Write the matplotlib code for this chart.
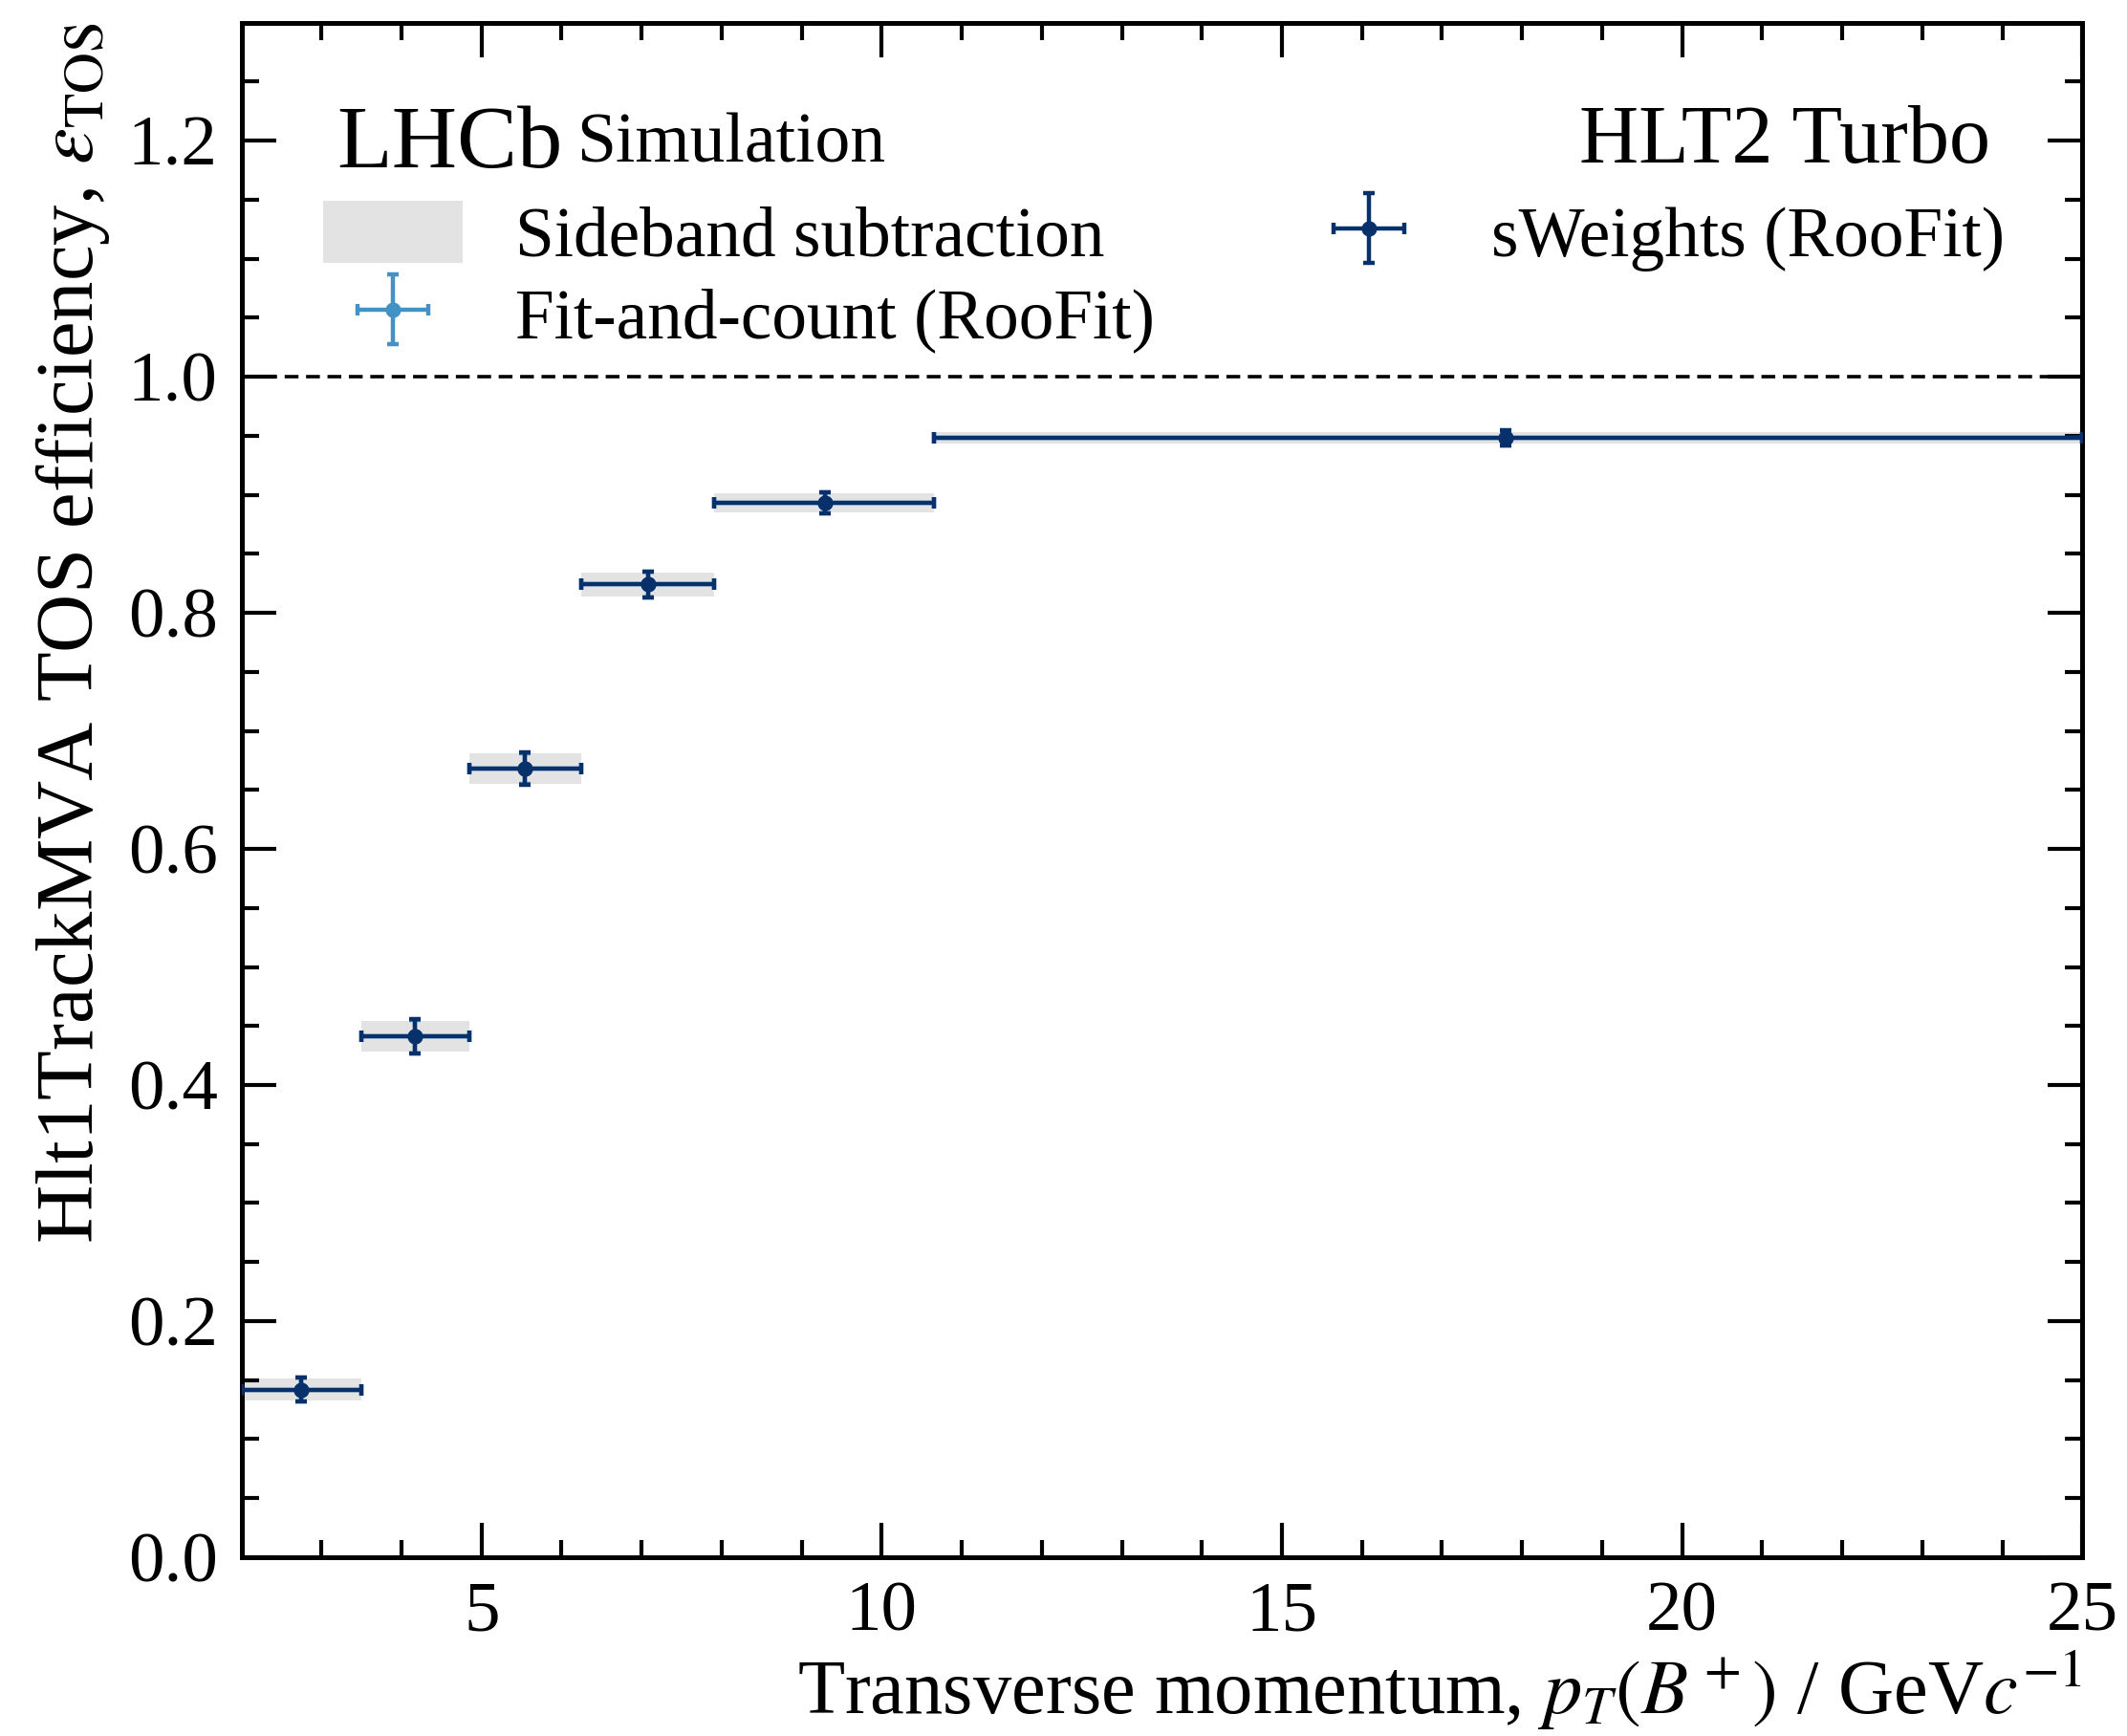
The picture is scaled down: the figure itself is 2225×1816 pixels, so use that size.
import numpy as np
import matplotlib
matplotlib.use("Agg")
import matplotlib.pyplot as plt
from matplotlib.patches import Patch
from matplotlib.lines import Line2D

# ---- data ----
bin_edges = [2.0, 3.5, 4.85, 6.25, 7.9, 10.65, 25.0]
x_centers = [2.75, 4.17, 5.54, 7.08, 9.29, 17.8]
sideband_eff = [0.142, 0.441, 0.668, 0.824, 0.893, 0.948]
sideband_err = [0.009, 0.013, 0.013, 0.010, 0.008, 0.005]
fitcount_eff = [0.142, 0.441, 0.668, 0.824, 0.893, 0.948]
fitcount_err = [0.010, 0.014, 0.013, 0.011, 0.009, 0.006]
sweights_eff = [0.142, 0.441, 0.668, 0.824, 0.893, 0.948]
sweights_err = [0.010, 0.0145, 0.0135, 0.011, 0.009, 0.0065]

plt.rcParams['font.family'] = ['Liberation Serif', 'DejaVu Serif']
plt.rcParams['mathtext.fontset'] = 'stix'

fig = plt.figure(figsize=(11.125, 9.08), dpi=200)
ax = fig.add_axes([0.1135, 0.103, 0.979 - 0.1135, 0.987 - 0.103])

edges = np.array(bin_edges)
xc = np.array(x_centers)
xlo = xc - edges[:-1]
xhi = edges[1:] - xc
widths = np.diff(edges)

navy = '#08306b'
light = '#4292c6'
grey = '#e3e3e3'

sb = np.array(sideband_eff)
sbe = np.array(sideband_err)
ax.bar(edges[:-1], 2 * sbe, bottom=sb - sbe, width=widths, align='edge',
       color=grey, linewidth=0, zorder=1)

h_fc = ax.errorbar(xc, fitcount_eff, xerr=[xlo, xhi], yerr=fitcount_err, fmt='o',
                   color=light, ms=4.8, elinewidth=1.6, capsize=2.3, capthick=1.6, zorder=2)
h_sw = ax.errorbar(xc, sweights_eff, xerr=[xlo, xhi], yerr=sweights_err, fmt='o',
                   color=navy, ms=4.8, elinewidth=1.6, capsize=2.3, capthick=1.6, zorder=3)

ax.axhline(1.0, color='black', ls='--', lw=1.3, dashes=(4, 2.2), zorder=0.5)

ax.set_xlim(2, 25)
ax.set_ylim(0, 1.3)
ax.set_xticks([5, 10, 15, 20, 25])
ax.set_xticks(np.arange(3, 25, 1), minor=True)
ax.set_yticks(np.arange(0, 1.21, 0.2))
ax.set_yticklabels([f"{v:.1f}" for v in np.arange(0, 1.21, 0.2)])
ax.set_yticks(np.arange(0.05, 1.3, 0.05), minor=True)
ax.tick_params(which='both', direction='in', top=True, right=True, width=1.5, labelsize=27)
ax.tick_params(which='major', length=13, pad=9)
ax.tick_params(which='minor', length=6.5)
ax.tick_params(axis='x', which='major', pad=9)
for s in ax.spines.values():
    s.set_linewidth(1.8)

ax.set_xlabel(r"Transverse momentum, $p_T(B^+)$ / GeV$c^{-1}$", fontsize=29,
              loc='right', labelpad=1)
ax.set_ylabel(r"Hlt1TrackMVA TOS efficiency, $\varepsilon_{\rm TOS}$", fontsize=30.5,
              loc='top', labelpad=6)

ax.text(0.052, 0.906, "LHCb", transform=ax.transAxes, fontsize=34, va='baseline', ha='left')
ax.text(0.182, 0.909, "Simulation", transform=ax.transAxes, fontsize=26.5, va='baseline', ha='left')
ax.text(0.950, 0.909, "HLT2 Turbo", transform=ax.transAxes, fontsize=31, va='baseline', ha='right')

h_sb = Patch(facecolor=grey, edgecolor='none')
h_blank = Line2D([], [], color='none')
leg = ax.legend([h_sb, h_fc, h_sw, h_blank],
                ["Sideband subtraction", "Fit-and-count (RooFit)", "sWeights (RooFit)", ""],
                ncol=2, loc='upper left', bbox_to_anchor=(0.0442, 0.884), frameon=False,
                fontsize=26.4, handlelength=2.0, handleheight=1.0, handletextpad=0.75,
                columnspacing=2.05, labelspacing=0.15, borderaxespad=0, borderpad=0)

fig.savefig("out.png", dpi=200)
